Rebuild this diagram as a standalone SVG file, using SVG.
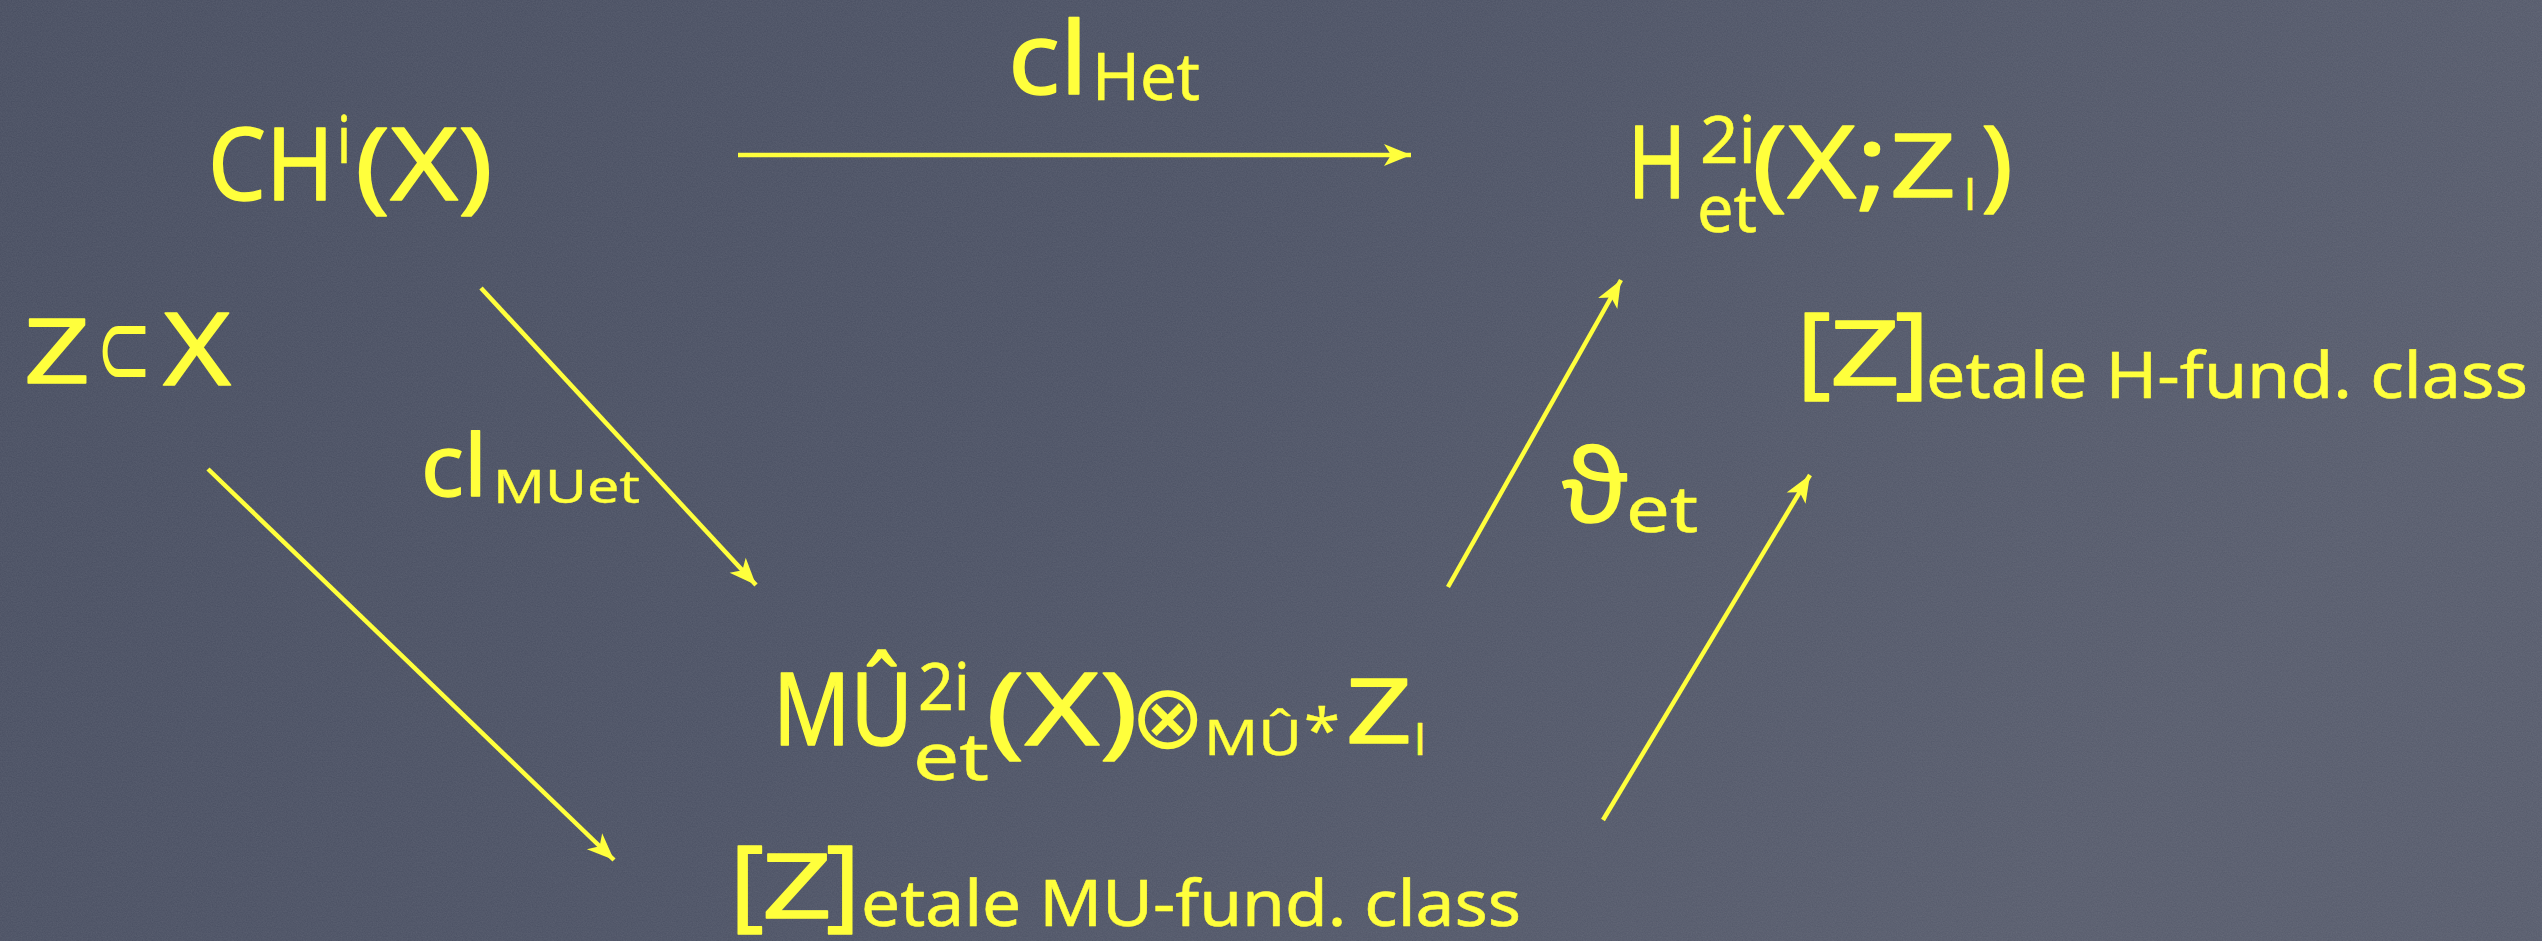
<svg xmlns="http://www.w3.org/2000/svg" width="2542" height="941" viewBox="0 0 2542 941">
  <defs>
    <linearGradient id="bg" x1="0" y1="0" x2="1" y2="0.3">
      <stop offset="0" stop-color="#464c5f"/>
      <stop offset="0.5" stop-color="#4a5063"/>
      <stop offset="1" stop-color="#555a6b"/>
    </linearGradient>
    <filter id="grain" x="0" y="0" width="1" height="1">
      <feTurbulence type="fractalNoise" baseFrequency="0.8" numOctaves="2" seed="7"/>
      <feColorMatrix type="matrix" values="0 0 0 0 1  0 0 0 0 1  0 0 0 0 1  0.10 0 0 0 0"/>
    </filter>
    <marker id="ah" markerUnits="userSpaceOnUse" markerWidth="32" markerHeight="26" viewBox="-28 -13 30 26" refX="0" refY="0" orient="auto">
      <path d="M0,0 L-27,-11 L-20,0 L-27,11 Z" fill="#ffff3c"/>
    </marker>
    <style>
      .t { fill: #ffff3c; stroke: #ffff3c; stroke-width: 1.4; stroke-linejoin: round; font-family: "Noto Sans", "DejaVu Sans", sans-serif; }
      .m { fill: #ffff3c; font-family: "DejaVu Sans", "Noto Sans", sans-serif; }
      .big { font-size: 100px; }
      .z { font-size: 90px; }
      .sup { font-size: 66px; stroke-width: 0.6; }
      .sub { font-size: 64px; stroke-width: 0.6; }
      .sm { stroke-width: 0.4; }
      .edge { stroke: #ffff3c; stroke-width: 4.5; fill: none; marker-end: url(#ah); }
    </style>
  </defs>
  <rect width="2542" height="941" fill="url(#bg)"/>
  <rect width="2542" height="941" filter="url(#grain)"/>

  <g id="node-chx">
    <text class="t big" x="208" y="200" textLength="126" lengthAdjust="spacingAndGlyphs">CH</text>
    <text class="t sup" x="337" y="163" textLength="14" lengthAdjust="spacingAndGlyphs">i</text>
    <text class="t big" x="355" y="200" textLength="138" lengthAdjust="spacingAndGlyphs">(X)</text>
  </g>

  <g id="node-zx">
    <text class="t z" x="24" y="383" textLength="66" lengthAdjust="spacingAndGlyphs">Z</text>
    <text class="m" x="96" y="386" font-size="110" textLength="56" lengthAdjust="spacingAndGlyphs">⊂</text>
    <text class="t big" x="163" y="385" textLength="68" lengthAdjust="spacingAndGlyphs">X</text>
  </g>

  <g id="node-het">
    <text class="t big" x="1628" y="198" textLength="58" lengthAdjust="spacingAndGlyphs">H</text>
    <text class="t sup" x="1700" y="163" textLength="56" lengthAdjust="spacingAndGlyphs">2i</text>
    <text class="t sup" x="1697" y="232" textLength="60" lengthAdjust="spacingAndGlyphs">et</text>
    <text class="t big" x="1752" y="198" textLength="136" lengthAdjust="spacingAndGlyphs">(X;</text>
    <text class="t" x="1890" y="197" font-size="88" textLength="66" lengthAdjust="spacingAndGlyphs">Z</text>
    <text class="t sm" x="1964" y="210" font-size="42" textLength="12" lengthAdjust="spacingAndGlyphs">l</text>
    <text class="t big" x="1981" y="198" textLength="32" lengthAdjust="spacingAndGlyphs">)</text>
  </g>

  <g id="node-zh">
    <text class="t big" x="1797" y="385" textLength="34" lengthAdjust="spacingAndGlyphs">[</text>
    <text class="t z" x="1830" y="385" textLength="70" lengthAdjust="spacingAndGlyphs">Z</text>
    <text class="t big" x="1895" y="385" textLength="34" lengthAdjust="spacingAndGlyphs">]</text>
    <text class="t sub" x="1926" y="398" textLength="602" lengthAdjust="spacingAndGlyphs">etale H-fund. class</text>
  </g>

  <g id="node-mu">
    <text class="t big" x="773" y="745" textLength="140" lengthAdjust="spacingAndGlyphs">MÛ</text>
    <text class="t sup" x="918" y="710" textLength="52" lengthAdjust="spacingAndGlyphs">2i</text>
    <text class="t sup" x="913" y="780" textLength="76" lengthAdjust="spacingAndGlyphs">et</text>
    <text class="t big" x="986" y="745" textLength="152" lengthAdjust="spacingAndGlyphs">(X)</text>
    <text class="m" x="1130" y="748" font-size="90">⊗</text>
    <text class="t sm" x="1204" y="755" font-size="50" textLength="98" lengthAdjust="spacingAndGlyphs">MÛ</text>
    <text class="t sm" x="1304" y="752" font-size="60" textLength="36" lengthAdjust="spacingAndGlyphs">*</text>
    <text class="t z" x="1346" y="743" textLength="66" lengthAdjust="spacingAndGlyphs">Z</text>
    <text class="t sm" x="1414" y="755" font-size="42" textLength="12" lengthAdjust="spacingAndGlyphs">l</text>
  </g>

  <g id="node-zmu">
    <text class="t big" x="730" y="918" textLength="34" lengthAdjust="spacingAndGlyphs">[</text>
    <text class="t z" x="762" y="918" textLength="70" lengthAdjust="spacingAndGlyphs">Z</text>
    <text class="t big" x="826" y="918" textLength="34" lengthAdjust="spacingAndGlyphs">]</text>
    <text class="t sub" x="861" y="926" textLength="660" lengthAdjust="spacingAndGlyphs">etale MU-fund. class</text>
  </g>

  <g id="connectors">
    <line class="edge" x1="738" y1="155" x2="1411" y2="155"/>
    <line class="edge" x1="481" y1="288" x2="756" y2="585"/>
    <line class="edge" x1="208" y1="469" x2="614" y2="860"/>
    <line class="edge" x1="1448" y1="587" x2="1621" y2="280"/>
    <line class="edge" x1="1603" y1="820" x2="1810" y2="475"/>
  </g>

  <g id="labels">
    <g id="label-clhet">
      <text class="t big" x="1008" y="94" textLength="80" lengthAdjust="spacingAndGlyphs">cl</text>
      <text class="t sup" x="1092" y="100" textLength="108" lengthAdjust="spacingAndGlyphs">Het</text>
    </g>
    <g id="label-clmuet">
      <text class="t" x="421" y="496" font-size="86" textLength="66" lengthAdjust="spacingAndGlyphs">cl</text>
      <text class="t sm" x="493" y="503" font-size="46" textLength="147" lengthAdjust="spacingAndGlyphs">MUet</text>
    </g>
    <g id="label-theta">
      <text class="t big" x="1562" y="522" textLength="66" lengthAdjust="spacingAndGlyphs">ϑ</text>
      <text class="t sub" x="1626" y="532" textLength="72" lengthAdjust="spacingAndGlyphs">et</text>
    </g>
  </g>
</svg>
